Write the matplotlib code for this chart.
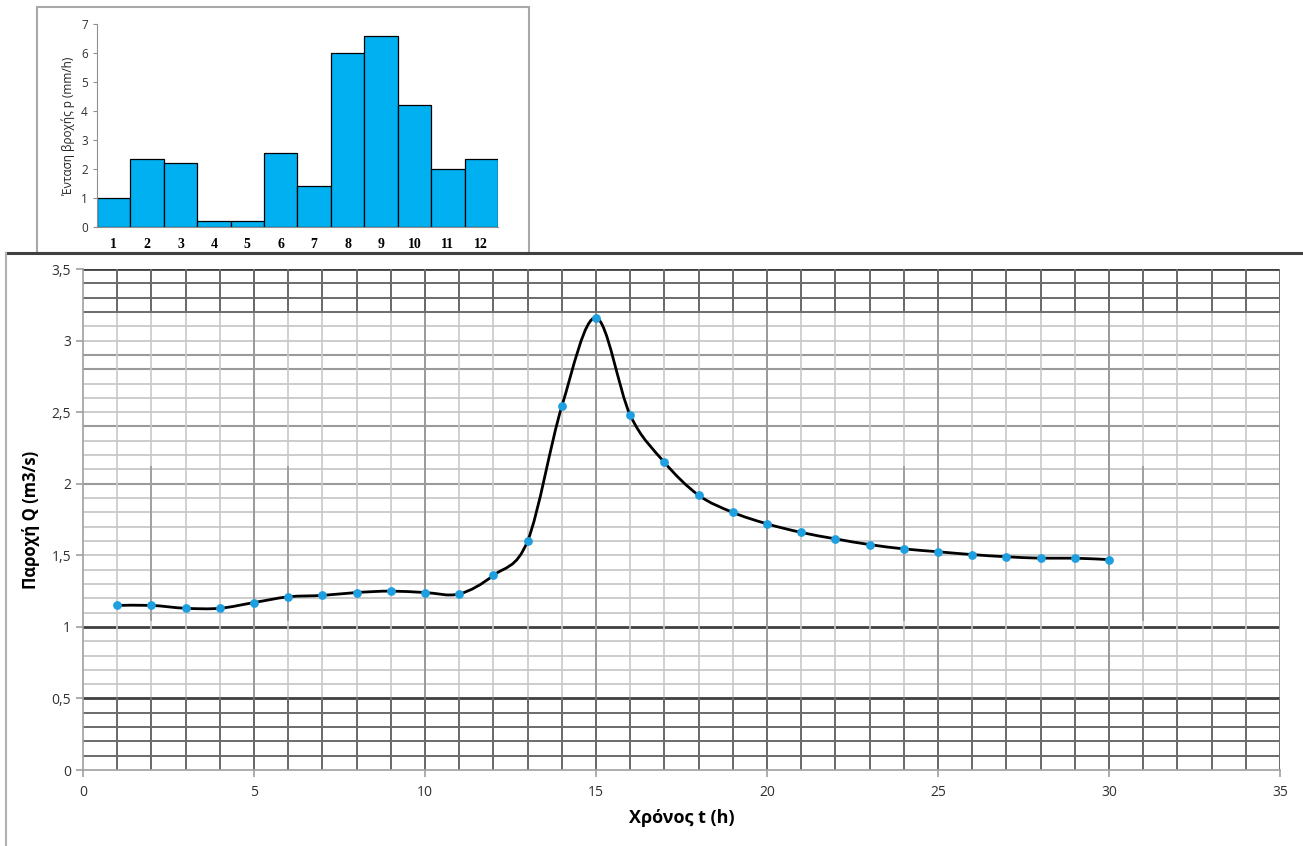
import matplotlib.pyplot as plt
from matplotlib.path import Path
from matplotlib.patches import PathPatch, Rectangle
from matplotlib.lines import Line2D
import numpy as np

# υδρογράφημα παροχής (ωριαίες τιμές)
hours = list(range(1, 31))
discharge = [1.15, 1.15, 1.13, 1.13, 1.17, 1.21, 1.22, 1.24, 1.25, 1.24,
             1.23, 1.36, 1.60, 2.54, 3.16, 2.48, 2.15, 1.92, 1.80, 1.72,
             1.66, 1.615, 1.575, 1.545, 1.525, 1.505, 1.49, 1.48, 1.48, 1.47]

# υετογράφημα
rain_steps = list(range(1, 13))
rain = [1.0, 2.35, 2.2, 0.2, 0.2, 2.55, 1.4, 6.0, 6.6, 4.2, 2.0, 2.35]

x_ticks = [0, 5, 10, 15, 20, 25, 30, 35]
y_ticks = [0, 0.5, 1, 1.5, 2, 2.5, 3, 3.5]
y_tick_labels = ['0', '0,5', '1', '1,5', '2', '2,5', '3', '3,5']

plt.rcParams['font.family'] = ['Open Sans', 'DejaVu Sans']

fig = plt.figure(figsize=(13.03, 8.46), dpi=100)


def smooth_path(xs, ys):
    """καμπύλη Bezier τύπου Catmull-Rom που περνά από όλα τα σημεία"""
    pts = np.column_stack([xs, ys]).astype(float)
    n = len(pts)
    verts = [pts[0]]
    codes = [Path.MOVETO]
    for i in range(n - 1):
        p0 = pts[i - 1] if i > 0 else pts[i]
        p1 = pts[i]
        p2 = pts[i + 1]
        p3 = pts[i + 2] if i + 2 < n else pts[i + 1]
        c1 = p1 + (p2 - p0) / 6.0
        c2 = p2 - (p3 - p1) / 6.0
        verts += [c1, c2, p2]
        codes += [Path.CURVE4] * 3
    return Path(verts, codes)


# κύριο διάγραμμα
ax = fig.add_axes([0.0637, 0.0898, 0.9186, 0.5922])
ax.set_xlim(0, 35)
ax.set_ylim(0, 3.5)

# πλέγμα χαρτιού μιλιμετρέ
for yv in np.arange(0.1, 3.51, 0.1):
    yv = round(yv, 1)
    col, lw = '#c4c4c4', 1.2
    if yv in (0.5, 1.0, 3.5):
        col, lw = '#404040', 2.0
    elif yv < 0.5 or yv > 3.15:
        col, lw = '#6a6a6a', 1.4
    elif yv in (2.4, 2.9, 2.8, 2.0):
        col, lw = '#9a9a9a', 1.5
    ax.axhline(yv, color=col, lw=lw, zorder=1)

for xv in range(1, 36):
    ax.axvline(xv, color='#c8c8c8', lw=1.2, zorder=1)
    ax.plot([xv, xv], [0, 0.5], color='#6a6a6a', lw=1.4, zorder=1.5)
    ax.plot([xv, xv], [3.2, 3.5], color='#6a6a6a', lw=1.4, zorder=1.5)
    if xv % 5 == 0:
        ax.plot([xv, xv], [0, 3.5], color='#9a9a9a', lw=1.4, zorder=1.2)
for xv in (2, 6, 24, 31):
    ax.plot([xv, xv], [1.05, 2.12], color='#a0a0a0', lw=1.4, zorder=1.2)

ax.add_patch(PathPatch(smooth_path(hours, discharge), facecolor='none',
                       edgecolor='black', lw=2, zorder=3))
ax.scatter(hours, discharge, s=28, color='#1e9fe0', zorder=4)

for side in ('top', 'right'):
    ax.spines[side].set_visible(False)
for side in ('left', 'bottom'):
    ax.spines[side].set_color('#a0a0a0')
    ax.spines[side].set_linewidth(1.2)

ax.set_xticks(x_ticks)
ax.set_yticks(y_ticks, y_tick_labels)
ax.tick_params(axis='both', colors='#a0a0a0', labelcolor='#303030',
               labelsize=10, length=5, width=1.2)
ax.tick_params(axis='x', pad=6)
ax.set_xlabel('Χρόνος t (h)', fontsize=13, fontweight='bold', labelpad=6)
ax.set_ylabel('Παροχή Q (m3/s)', fontsize=12, fontweight='bold', labelpad=8)

# πλαίσια γύρω από τα διαγράμματα
fig.add_artist(Line2D([0.0046, 1.0], [0.7013, 0.7013], color='#404040', lw=2.2))
fig.add_artist(Line2D([0.0046, 0.0046], [0.0, 0.7013], color='#b0b0b0', lw=1.5))
fig.add_artist(Rectangle((0.0284, 0.701), 0.3776, 0.2907, transform=fig.transFigure,
                         facecolor='none', edgecolor='#a8a8a8', lw=1.5))

# υετογράφημα (ένθετο)
ax2 = fig.add_axes([0.0744, 0.7317, 0.3078, 0.2400])
ax2.bar(rain_steps, rain, width=1.0, color='#00b0f0', edgecolor='black',
        linewidth=0.9, zorder=2)
ax2.set_xlim(0.5, 12.5)
ax2.set_ylim(0, 7)
ax2.set_yticks(range(0, 8))
ax2.set_xticks(rain_steps)
for side in ('top', 'right'):
    ax2.spines[side].set_visible(False)
for side in ('left', 'bottom'):
    ax2.spines[side].set_color('#909090')
ax2.tick_params(axis='y', colors='#909090', labelcolor='#303030', labelsize=8.5,
                length=3)
ax2.tick_params(axis='x', length=0, pad=8)
for lab in ax2.get_xticklabels():
    lab.set_fontfamily(['Liberation Serif', 'DejaVu Serif'])
    lab.set_fontweight('bold')
    lab.set_fontsize(10)
ax2.set_ylabel('Ένταση βροχής p (mm/h)', fontsize=8.5, color='#202020', labelpad=4)

fig.savefig('out.png', dpi=100)
